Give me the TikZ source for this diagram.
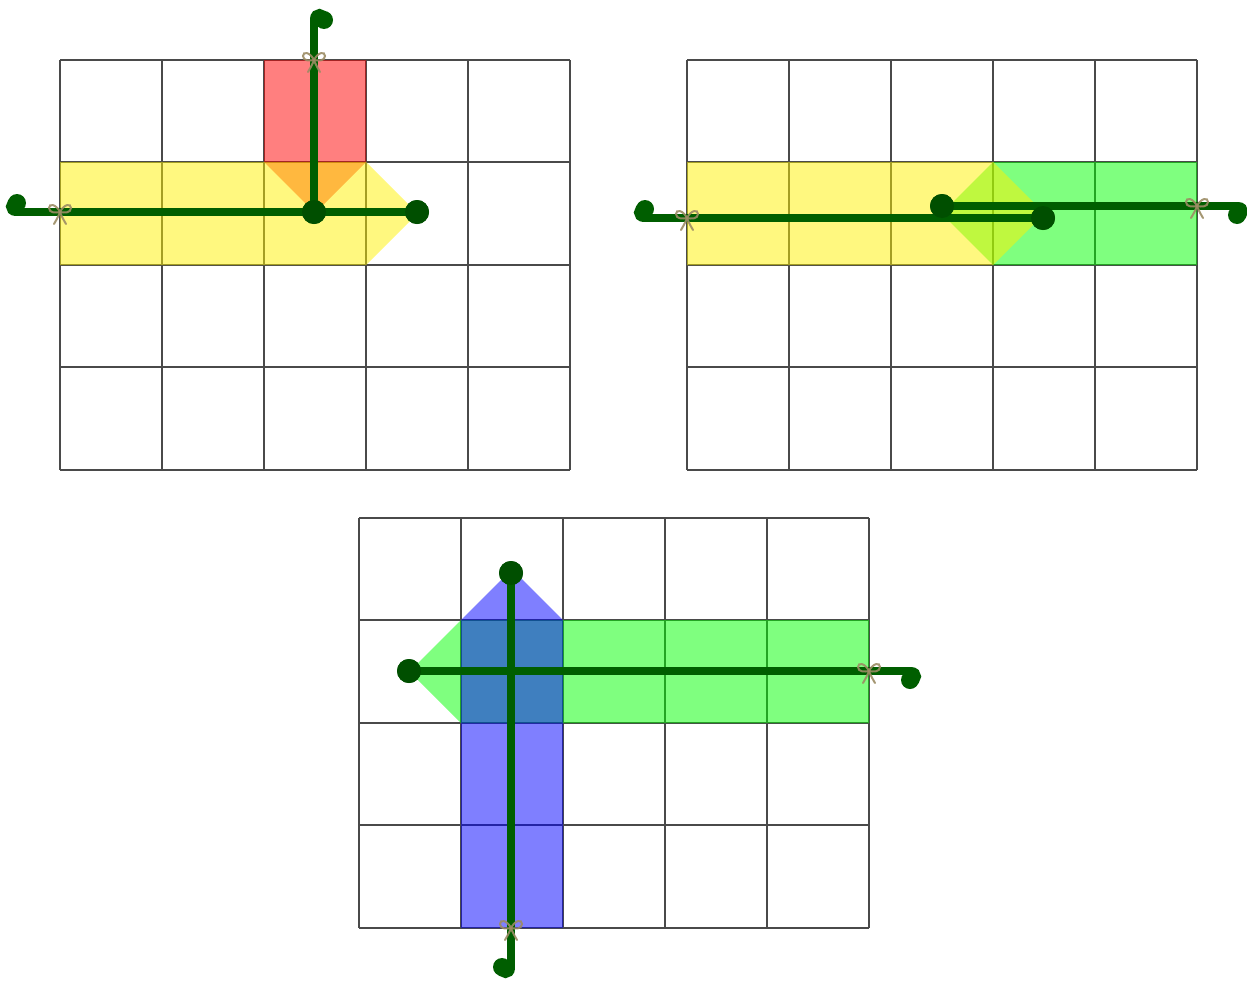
\documentclass[tikz,border=0pt]{standalone}
\usetikzlibrary{calc}
\definecolor{wirec}{HTML}{005E00}
\definecolor{dotc}{HTML}{004F00}
\definecolor{gridc}{HTML}{4A4A4A}
\definecolor{bowc}{HTML}{9C8C64}
\begin{document}
\begin{tikzpicture}[x=1pt,y=-1pt,
  gridline/.style={draw=gridc,line width=2pt},
  band/.style={fill opacity=0.5},
  wire/.style={draw=wirec,line width=7.5pt},
  crook/.style={draw=wirec,line width=8pt,line cap=round},
  blob/.style={fill=wirec},
  dot/.style={circle,fill=dotc,minimum size=24pt,inner sep=0pt},
  bowline/.style={draw=bowc,line width=2pt,opacity=0.9,line cap=round},
  bow/.pic={
    \draw[bowline] (0,0) .. controls (-4,-8) and (-11,-9) .. (-11,-4) .. controls (-11,1) and (-4,1) .. (0,0);
    \draw[bowline] (0,0) .. controls (4,-8) and (11,-9) .. (11,-4) .. controls (11,1) and (4,1) .. (0,0);
    \draw[bowline] (0,0) .. controls (-2,5) .. (-6,12);
    \draw[bowline] (0,0) .. controls (2,5) .. (6,12);
  }]
\useasboundingbox (0,0) rectangle (1247,980);
\fill[white] (0,0) rectangle (1247,980);

% ---------- grids ----------
\foreach \gx/\gy in {60/60, 687/60, 359/518}{
  \fill[white] (\gx,\gy) rectangle ($(\gx,\gy)+(510,410)$);
  \foreach \i in {0,102,204,306,408,510} \draw[gridline] ($(\gx,\gy)+(\i,0)$) -- ($(\gx,\gy)+(\i,410)$);
  \foreach \j in {0,102,205,307,410} \draw[gridline] ($(\gx,\gy)+(0,\j)$) -- ($(\gx,\gy)+(510,\j)$);
}

% ---------- bands ----------
% grid 1
\fill[band,red] (264,60) -- (366,60) -- (366,162) -- (315,213) -- (264,162) -- cycle;
\fill[band,yellow] (60,162) -- (366,162) -- (417.5,213.5) -- (366,265) -- (60,265) -- cycle;
% grid 2
\fill[band,green] (993,162) -- (1197,162) -- (1197,265) -- (993,265) -- (941.5,213.5) -- cycle;
\fill[band,yellow] (687,162) -- (993,162) -- (1044.5,213.5) -- (993,265) -- (687,265) -- cycle;
% grid 3
\fill[band,green] (461,620) -- (869,620) -- (869,723) -- (461,723) -- (409.5,671.5) -- cycle;
\fill[band,blue] (461,620) -- (512,569) -- (563,620) -- (563,928) -- (461,928) -- cycle;

% ---------- end points ----------
\coordinate (h1) at (16,212);
\coordinate (h2) at (314,19);
\coordinate (h3) at (644,218);
\coordinate (h4) at (1238,206);
\coordinate (h5) at (911,671);
\coordinate (h6) at (511,968);

% ---------- dots ----------
\node[dot] (d1) at (314,212) {};
\node[dot] (d2) at (417,212) {};
\node[dot] (d3) at (1043,218) {};
\node[dot] (d4) at (942,206) {};
\node[dot] (d5) at (409,671) {};
\node[dot] (d6) at (511,573) {};

% ---------- wires ----------
\draw[wire] (d2.center) -- (h1);
\draw[wire] (d1.center) -- (h2);
\draw[wire] (d3.center) -- (h3);
\draw[wire] (d4.center) -- (h4);
\draw[wire] (d5.center) -- (h5);
\draw[wire] (d6.center) -- (h6);

% ---------- crooks ----------
\draw[crook] (h1) .. controls (8,212) and (8,201) .. (16,201);
\fill[blob] (17,203) circle (9);
\draw[crook] (h2) .. controls (314,11) and (325,11) .. (325,19);
\fill[blob] (324,20) circle (9);
\draw[crook] (h3) .. controls (636,218) and (636,207) .. (644,207);
\fill[blob] (645,209) circle (9);
\draw[crook] (h4) .. controls (1246,206) and (1246,217) .. (1238,217);
\fill[blob] (1237,215) circle (9);
\draw[crook] (h5) .. controls (919,671) and (919,682) .. (911,682);
\fill[blob] (910,680) circle (9);
\draw[crook] (h6) .. controls (511,976) and (500,976) .. (500,968);
\fill[blob] (502,967) circle (9);

% redraw dots above wires
\foreach \n in {d1,d2,d3,d4,d5,d6} \fill[dotc] (\n.center) circle (12);

% ---------- bows ----------
\pic at (60,212) {bow};
\pic at (314,60) {bow};
\pic at (687,218) {bow};
\pic at (1197,206) {bow};
\pic at (869,671) {bow};
\pic at (511,928) {bow};
\end{tikzpicture}
\end{document}
